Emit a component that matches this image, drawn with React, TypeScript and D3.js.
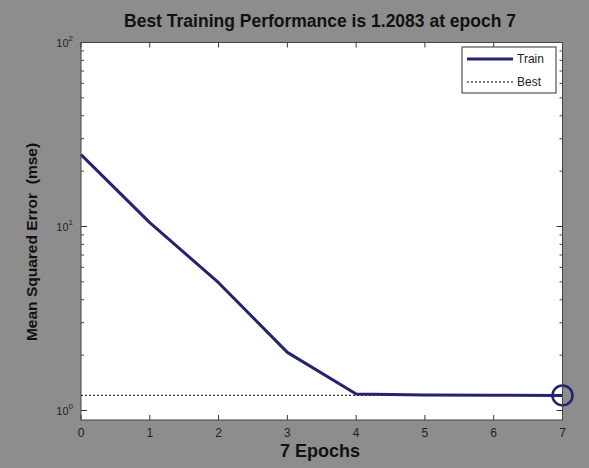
import React from "react";
import * as d3 from "d3";

const epochs = [0, 1, 2, 3, 4, 5, 6, 7];
const trainMse = [24.6, 10.5, 4.95, 2.07, 1.23, 1.215, 1.21, 1.2083];
const bestEpoch = 7;
const bestValue = 1.2083;
const xTicks = [0, 1, 2, 3, 4, 5, 6, 7];
const yDecades = [1, 10, 100];
const yExponents = ["0", "1", "2"];
const titleText = "Best Training Performance is 1.2083 at epoch 7";
const xLabel = "7 Epochs";
const yLabel = "Mean Squared Error  (mse)";
const legendLabels = ["Train", "Best"];

const W = 589, H = 468;
const left = 81, right = 562.5, top = 42.5, bottom = 420;
const navy = "#24246e";
const bg = "#8d8d8d";

export default function App() {
  const x = d3.scaleLinear().domain([0, 7]).range([left, right]);
  const decade = 184;
  const y0 = 410.5;
  const yMin = Math.pow(10, -(bottom - y0) / decade);
  const y = d3.scaleLog().domain([yMin, 100]).range([bottom, top]);
  const minor: number[] = [];
  for (const d of [1, 10]) for (let k = 2; k <= 9; k++) minor.push(d * k);
  const line = d3.line<number>().x((_, i) => x(epochs[i])).y((v) => y(v));
  const font = "Arial, 'Liberation Sans', sans-serif";
  return (
    <svg width={W} height={H} style={{ position: "absolute", left: 0, top: 0 }} fontFamily={font}>
      <rect x={0} y={0} width={W} height={H} fill={bg} />
      <rect x={left} y={top} width={right - left} height={bottom - top} fill="#ffffff" />
      {/* ticks */}
      {xTicks.map((t) => (
        <g key={"xt" + t}>
          <line x1={x(t)} x2={x(t)} y1={bottom} y2={bottom - 5} stroke="#333" strokeWidth={1} />
          <line x1={x(t)} x2={x(t)} y1={top} y2={top + 5} stroke="#333" strokeWidth={1} />
          <text x={x(t)} y={bottom + 17} textAnchor="middle" fontSize={12} fill="#222">{t}</text>
        </g>
      ))}
      {yDecades.map((v, i) => (
        <g key={"yt" + v}>
          <line x1={left} x2={left + 6} y1={y(v)} y2={y(v)} stroke="#333" />
          <line x1={right} x2={right - 6} y1={y(v)} y2={y(v)} stroke="#333" />
          <text x={left - 8} y={y(v) + 4} textAnchor="end" fontSize={11} fill="#222">
            10
            <tspan dy={-6} fontSize={8}>{yExponents[i]}</tspan>
          </text>
        </g>
      ))}
      {minor.map((v) => (
        <g key={"mn" + v}>
          <line x1={left} x2={left + 3} y1={y(v)} y2={y(v)} stroke="#444" />
          <line x1={right} x2={right - 3} y1={y(v)} y2={y(v)} stroke="#444" />
        </g>
      ))}
      {/* best line */}
      <line x1={left} x2={right} y1={y(bestValue)} y2={y(bestValue)} stroke="#333" strokeWidth={1.2} strokeDasharray="2,2" />
      {/* train line */}
      <path d={line(trainMse) || ""} fill="none" stroke={navy} strokeWidth={3} strokeLinejoin="round" />
      <circle cx={x(bestEpoch)} cy={y(bestValue)} r={10} fill="none" stroke={navy} strokeWidth={2.5} />
      {/* axes box */}
      <rect x={left} y={top} width={right - left} height={bottom - top} fill="none" stroke="#444" strokeWidth={1} />
      {/* legend */}
      <rect x={462} y={47} width={94} height={46} fill="#ffffff" stroke="#333" strokeWidth={1} />
      <line x1={467} x2={513} y1={59} y2={59} stroke={navy} strokeWidth={3} />
      <line x1={467} x2={513} y1={82} y2={82} stroke="#555" strokeWidth={1.5} strokeDasharray="2,2" />
      <text x={517} y={63} fontSize={12} fill="#222">{legendLabels[0]}</text>
      <text x={517} y={86} fontSize={12} fill="#222">{legendLabels[1]}</text>
      {/* titles */}
      <text x={320} y={27} textAnchor="middle" fontSize={17.5} fontWeight="bold" fill="#111">{titleText}</text>
      <text x={320} y={457} textAnchor="middle" fontSize={18} fontWeight="bold" fill="#111">{xLabel}</text>
      <text transform={`translate(37,242) rotate(-90)`} textAnchor="middle" fontSize={15.5} fontWeight="bold" fill="#111" style={{ whiteSpace: "pre" }}>{yLabel}</text>
    </svg>
  );
}
